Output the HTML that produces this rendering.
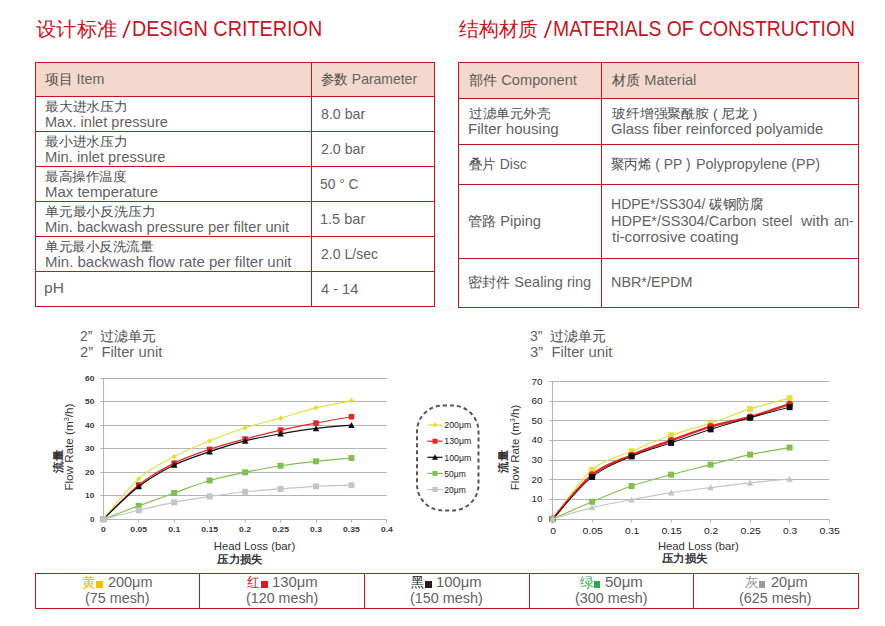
<!DOCTYPE html><html><head><meta charset="utf-8"><style>html,body{margin:0;padding:0;background:#fff;}
body{width:885px;height:626px;position:relative;overflow:hidden;font-family:"Liberation Sans",sans-serif;}
.a{position:absolute;white-space:nowrap;transform-origin:0 0;}
.z{font-size:13.7px;color:#4e4e4e}
</style></head><body>
<div style="position:absolute;left:35px;top:62px;width:400px;height:34px;background:#f3d8cb"></div>
<div style="position:absolute;left:35px;top:62px;width:400px;height:1px;background:#c8141e"></div>
<div style="position:absolute;left:35px;top:96px;width:400px;height:1px;background:#c8141e"></div>
<div style="position:absolute;left:35px;top:131px;width:400px;height:1px;background:#c8141e"></div>
<div style="position:absolute;left:35px;top:166px;width:400px;height:1px;background:#c8141e"></div>
<div style="position:absolute;left:35px;top:201px;width:400px;height:1px;background:#c8141e"></div>
<div style="position:absolute;left:35px;top:236px;width:400px;height:1px;background:#c8141e"></div>
<div style="position:absolute;left:35px;top:271px;width:400px;height:1px;background:#c8141e"></div>
<div style="position:absolute;left:35px;top:306px;width:400px;height:1px;background:#c8141e"></div>
<div style="position:absolute;left:35px;top:62px;width:1px;height:245px;background:#c8141e"></div>
<div style="position:absolute;left:311px;top:62px;width:1px;height:245px;background:#c8141e"></div>
<div style="position:absolute;left:434px;top:62px;width:1px;height:245px;background:#c8141e"></div>
<div style="position:absolute;left:458px;top:62px;width:401px;height:36px;background:#f3d8cb"></div>
<div style="position:absolute;left:458px;top:62px;width:401px;height:1px;background:#c8141e"></div>
<div style="position:absolute;left:458px;top:98px;width:401px;height:1px;background:#c8141e"></div>
<div style="position:absolute;left:458px;top:144px;width:401px;height:1px;background:#c8141e"></div>
<div style="position:absolute;left:458px;top:184px;width:401px;height:1px;background:#c8141e"></div>
<div style="position:absolute;left:458px;top:258px;width:401px;height:1px;background:#c8141e"></div>
<div style="position:absolute;left:458px;top:307px;width:401px;height:1px;background:#c8141e"></div>
<div style="position:absolute;left:458px;top:62px;width:1px;height:246px;background:#c8141e"></div>
<div style="position:absolute;left:601px;top:62px;width:1px;height:246px;background:#c8141e"></div>
<div style="position:absolute;left:858px;top:62px;width:1px;height:246px;background:#c8141e"></div>
<div style="position:absolute;left:35px;top:573px;width:824px;height:1px;background:#c8141e"></div>
<div style="position:absolute;left:35px;top:608px;width:824px;height:1px;background:#c8141e"></div>
<div style="position:absolute;left:35px;top:573px;width:1px;height:36px;background:#c8141e"></div>
<div style="position:absolute;left:199px;top:573px;width:1px;height:36px;background:#c8141e"></div>
<div style="position:absolute;left:364px;top:573px;width:1px;height:36px;background:#c8141e"></div>
<div style="position:absolute;left:529px;top:573px;width:1px;height:36px;background:#c8141e"></div>
<div style="position:absolute;left:693px;top:573px;width:1px;height:36px;background:#c8141e"></div>
<div style="position:absolute;left:858px;top:573px;width:1px;height:36px;background:#c8141e"></div>
<svg width="885" height="626" style="position:absolute;left:0;top:0" font-family="Liberation Sans, sans-serif">
<line x1="100.3" y1="495.50" x2="386.90" y2="495.50" stroke="#b4b4b4" stroke-width="1.1"/>
<line x1="100.3" y1="472.50" x2="386.90" y2="472.50" stroke="#b4b4b4" stroke-width="1.1"/>
<line x1="100.3" y1="448.50" x2="386.90" y2="448.50" stroke="#b4b4b4" stroke-width="1.1"/>
<line x1="100.3" y1="425.50" x2="386.90" y2="425.50" stroke="#b4b4b4" stroke-width="1.1"/>
<line x1="100.3" y1="401.50" x2="386.90" y2="401.50" stroke="#b4b4b4" stroke-width="1.1"/>
<line x1="100.3" y1="378.50" x2="386.90" y2="378.50" stroke="#b4b4b4" stroke-width="1.1"/>
<line x1="100.3" y1="519.50" x2="386.90" y2="519.50" stroke="#b4b4b4" stroke-width="1.1"/>
<line x1="103.50" y1="378.50" x2="103.50" y2="519.50" stroke="#b4b4b4" stroke-width="1.1"/>
<line x1="103.50" y1="519.50" x2="103.50" y2="522.50" stroke="#b4b4b4" stroke-width="1.1"/>
<line x1="138.50" y1="519.50" x2="138.50" y2="522.50" stroke="#b4b4b4" stroke-width="1.1"/>
<line x1="174.50" y1="519.50" x2="174.50" y2="522.50" stroke="#b4b4b4" stroke-width="1.1"/>
<line x1="209.50" y1="519.50" x2="209.50" y2="522.50" stroke="#b4b4b4" stroke-width="1.1"/>
<line x1="245.50" y1="519.50" x2="245.50" y2="522.50" stroke="#b4b4b4" stroke-width="1.1"/>
<line x1="280.50" y1="519.50" x2="280.50" y2="522.50" stroke="#b4b4b4" stroke-width="1.1"/>
<line x1="316.50" y1="519.50" x2="316.50" y2="522.50" stroke="#b4b4b4" stroke-width="1.1"/>
<line x1="351.50" y1="519.50" x2="351.50" y2="522.50" stroke="#b4b4b4" stroke-width="1.1"/>
<line x1="386.50" y1="519.50" x2="386.50" y2="522.50" stroke="#b4b4b4" stroke-width="1.1"/>
<path d="M103.30,519.20 C109.21,512.44 126.93,489.07 138.75,478.63 C150.57,468.20 162.38,462.88 174.20,456.59 C186.02,450.30 197.83,445.68 209.65,440.88 C221.47,436.07 233.28,431.54 245.10,427.75 C256.92,423.95 268.73,421.45 280.55,418.13 C292.37,414.81 304.18,410.70 316.00,407.81 C327.82,404.92 345.54,401.95 351.45,400.78" fill="none" stroke="#e6de3c" stroke-width="1.2"/>
<path d="M103.30,516.45 L106.05,519.20 L103.30,521.95 L100.55,519.20Z" fill="#e6de3c"/>
<path d="M138.75,475.88 L141.50,478.63 L138.75,481.38 L136.00,478.63Z" fill="#e6de3c"/>
<path d="M174.20,453.84 L176.95,456.59 L174.20,459.34 L171.45,456.59Z" fill="#e6de3c"/>
<path d="M209.65,438.13 L212.40,440.88 L209.65,443.63 L206.90,440.88Z" fill="#e6de3c"/>
<path d="M245.10,425.00 L247.85,427.75 L245.10,430.50 L242.35,427.75Z" fill="#e6de3c"/>
<path d="M280.55,415.38 L283.30,418.13 L280.55,420.88 L277.80,418.13Z" fill="#e6de3c"/>
<path d="M316.00,405.06 L318.75,407.81 L316.00,410.56 L313.25,407.81Z" fill="#e6de3c"/>
<path d="M351.45,398.03 L354.20,400.78 L351.45,403.53 L348.70,400.78Z" fill="#e6de3c"/>
<path d="M103.30,519.20 C109.21,513.49 126.93,494.30 138.75,484.96 C150.57,475.62 162.38,469.10 174.20,463.15 C186.02,457.21 197.83,453.34 209.65,449.32 C221.47,445.29 233.28,442.21 245.10,439.00 C256.92,435.80 268.73,432.75 280.55,430.09 C292.37,427.43 304.18,425.28 316.00,423.06 C327.82,420.83 345.54,417.78 351.45,416.72" fill="none" stroke="#e0282a" stroke-width="1.2"/>
<rect x="100.55" y="516.45" width="5.5" height="5.5" fill="#e0282a"/>
<rect x="136.00" y="482.21" width="5.5" height="5.5" fill="#e0282a"/>
<rect x="171.45" y="460.40" width="5.5" height="5.5" fill="#e0282a"/>
<rect x="206.90" y="446.57" width="5.5" height="5.5" fill="#e0282a"/>
<rect x="242.35" y="436.25" width="5.5" height="5.5" fill="#e0282a"/>
<rect x="277.80" y="427.34" width="5.5" height="5.5" fill="#e0282a"/>
<rect x="313.25" y="420.31" width="5.5" height="5.5" fill="#e0282a"/>
<rect x="348.70" y="413.97" width="5.5" height="5.5" fill="#e0282a"/>
<path d="M103.30,519.20 C109.21,513.77 126.93,495.63 138.75,486.60 C150.57,477.58 162.38,470.85 174.20,465.03 C186.02,459.21 197.83,455.69 209.65,451.66 C221.47,447.64 233.28,443.85 245.10,440.88 C256.92,437.91 268.73,435.91 280.55,433.84 C292.37,431.77 304.18,429.89 316.00,428.45 C327.82,427.00 345.54,425.71 351.45,425.17" fill="none" stroke="#101010" stroke-width="1.2"/>
<path d="M103.30,515.95 L106.55,521.95 L100.05,521.95Z" fill="#101010"/>
<path d="M138.75,483.35 L142.00,489.35 L135.50,489.35Z" fill="#101010"/>
<path d="M174.20,461.78 L177.45,467.78 L170.95,467.78Z" fill="#101010"/>
<path d="M209.65,448.41 L212.90,454.41 L206.40,454.41Z" fill="#101010"/>
<path d="M245.10,437.63 L248.35,443.63 L241.85,443.63Z" fill="#101010"/>
<path d="M280.55,430.59 L283.80,436.59 L277.30,436.59Z" fill="#101010"/>
<path d="M316.00,425.20 L319.25,431.20 L312.75,431.20Z" fill="#101010"/>
<path d="M351.45,421.92 L354.70,427.92 L348.20,427.92Z" fill="#101010"/>
<path d="M103.30,519.20 C109.21,516.97 126.93,510.21 138.75,505.83 C150.57,501.46 162.38,497.16 174.20,492.94 C186.02,488.72 197.83,483.95 209.65,480.51 C221.47,477.07 233.28,474.76 245.10,472.30 C256.92,469.84 268.73,467.57 280.55,465.73 C292.37,463.90 304.18,462.57 316.00,461.28 C327.82,459.99 345.54,458.54 351.45,458.00" fill="none" stroke="#80c050" stroke-width="1.2"/>
<rect x="100.30" y="516.20" width="6" height="6" fill="#80c050"/>
<rect x="135.75" y="502.83" width="6" height="6" fill="#80c050"/>
<rect x="171.20" y="489.94" width="6" height="6" fill="#80c050"/>
<rect x="206.65" y="477.51" width="6" height="6" fill="#80c050"/>
<rect x="242.10" y="469.30" width="6" height="6" fill="#80c050"/>
<rect x="277.55" y="462.73" width="6" height="6" fill="#80c050"/>
<rect x="313.00" y="458.28" width="6" height="6" fill="#80c050"/>
<rect x="348.45" y="455.00" width="6" height="6" fill="#80c050"/>
<path d="M103.30,519.20 C109.21,517.71 126.93,513.10 138.75,510.29 C150.57,507.48 162.38,504.62 174.20,502.32 C186.02,500.01 197.83,498.21 209.65,496.45 C221.47,494.69 233.28,493.01 245.10,491.76 C256.92,490.51 268.73,489.85 280.55,488.95 C292.37,488.05 304.18,487.00 316.00,486.37 C327.82,485.74 345.54,485.39 351.45,485.20" fill="none" stroke="#c4c4c4" stroke-width="1.2"/>
<rect x="100.30" y="516.20" width="6" height="6" fill="#c4c4c4"/>
<rect x="135.75" y="507.29" width="6" height="6" fill="#c4c4c4"/>
<rect x="171.20" y="499.32" width="6" height="6" fill="#c4c4c4"/>
<rect x="206.65" y="493.45" width="6" height="6" fill="#c4c4c4"/>
<rect x="242.10" y="488.76" width="6" height="6" fill="#c4c4c4"/>
<rect x="277.55" y="485.95" width="6" height="6" fill="#c4c4c4"/>
<rect x="313.00" y="483.37" width="6" height="6" fill="#c4c4c4"/>
<rect x="348.45" y="482.20" width="6" height="6" fill="#c4c4c4"/>
<line x1="549.3" y1="499.50" x2="829.10" y2="499.50" stroke="#b4b4b4" stroke-width="1.1"/>
<line x1="549.3" y1="479.50" x2="829.10" y2="479.50" stroke="#b4b4b4" stroke-width="1.1"/>
<line x1="549.3" y1="460.50" x2="829.10" y2="460.50" stroke="#b4b4b4" stroke-width="1.1"/>
<line x1="549.3" y1="440.50" x2="829.10" y2="440.50" stroke="#b4b4b4" stroke-width="1.1"/>
<line x1="549.3" y1="420.50" x2="829.10" y2="420.50" stroke="#b4b4b4" stroke-width="1.1"/>
<line x1="549.3" y1="401.50" x2="829.10" y2="401.50" stroke="#b4b4b4" stroke-width="1.1"/>
<line x1="549.3" y1="381.50" x2="829.10" y2="381.50" stroke="#b4b4b4" stroke-width="1.1"/>
<line x1="549.3" y1="519.50" x2="829.10" y2="519.50" stroke="#b4b4b4" stroke-width="1.1"/>
<line x1="552.50" y1="381.50" x2="552.50" y2="519.50" stroke="#b4b4b4" stroke-width="1.1"/>
<line x1="552.50" y1="519.50" x2="552.50" y2="522.50" stroke="#b4b4b4" stroke-width="1.1"/>
<line x1="592.50" y1="519.50" x2="592.50" y2="522.50" stroke="#b4b4b4" stroke-width="1.1"/>
<line x1="631.50" y1="519.50" x2="631.50" y2="522.50" stroke="#b4b4b4" stroke-width="1.1"/>
<line x1="671.50" y1="519.50" x2="671.50" y2="522.50" stroke="#b4b4b4" stroke-width="1.1"/>
<line x1="710.50" y1="519.50" x2="710.50" y2="522.50" stroke="#b4b4b4" stroke-width="1.1"/>
<line x1="750.50" y1="519.50" x2="750.50" y2="522.50" stroke="#b4b4b4" stroke-width="1.1"/>
<line x1="789.50" y1="519.50" x2="789.50" y2="522.50" stroke="#b4b4b4" stroke-width="1.1"/>
<line x1="829.50" y1="519.50" x2="829.50" y2="522.50" stroke="#b4b4b4" stroke-width="1.1"/>
<path d="M552.60,519.00 C559.18,510.79 578.93,481.04 592.10,469.75 C605.27,458.47 618.43,457.07 631.60,451.31 C644.77,445.56 657.93,439.90 671.10,435.22 C684.27,430.55 697.43,427.64 710.60,423.25 C723.77,418.87 736.93,413.12 750.10,408.93 C763.27,404.75 783.02,399.94 789.60,398.14" fill="none" stroke="#e6de3c" stroke-width="1.2"/>
<rect x="549.60" y="516.00" width="6" height="6" fill="#e6de3c"/>
<rect x="589.10" y="466.75" width="6" height="6" fill="#e6de3c"/>
<rect x="628.60" y="448.31" width="6" height="6" fill="#e6de3c"/>
<rect x="668.10" y="432.22" width="6" height="6" fill="#e6de3c"/>
<rect x="707.60" y="420.25" width="6" height="6" fill="#e6de3c"/>
<rect x="747.10" y="405.93" width="6" height="6" fill="#e6de3c"/>
<rect x="786.60" y="395.14" width="6" height="6" fill="#e6de3c"/>
<path d="M552.60,519.00 C559.18,511.64 578.93,485.48 592.10,474.86 C605.27,464.23 618.43,460.96 631.60,455.24 C644.77,449.51 657.93,445.29 671.10,440.52 C684.27,435.75 697.43,430.51 710.60,426.59 C723.77,422.67 736.93,420.70 750.10,416.98 C763.27,413.25 783.02,406.35 789.60,404.22" fill="none" stroke="#e0282a" stroke-width="2.4"/>
<circle cx="552.60" cy="519.00" r="3.5" fill="#e0282a"/>
<circle cx="592.10" cy="474.86" r="3.5" fill="#e0282a"/>
<circle cx="631.60" cy="455.24" r="3.5" fill="#e0282a"/>
<circle cx="671.10" cy="440.52" r="3.5" fill="#e0282a"/>
<circle cx="710.60" cy="426.59" r="3.5" fill="#e0282a"/>
<circle cx="750.10" cy="416.98" r="3.5" fill="#e0282a"/>
<circle cx="789.60" cy="404.22" r="3.5" fill="#e0282a"/>
<path d="M552.60,519.00 C559.18,512.00 578.93,487.44 592.10,477.01 C605.27,466.58 618.43,462.10 631.60,456.41 C644.77,450.72 657.93,447.39 671.10,442.87 C684.27,438.36 697.43,433.52 710.60,429.34 C723.77,425.15 736.93,421.46 750.10,417.76 C763.27,414.07 783.02,408.93 789.60,407.17" fill="none" stroke="#101010" stroke-width="1.0"/>
<rect x="549.60" y="516.00" width="6" height="6" fill="#101010"/>
<rect x="589.10" y="474.01" width="6" height="6" fill="#101010"/>
<rect x="628.60" y="453.41" width="6" height="6" fill="#101010"/>
<rect x="668.10" y="439.87" width="6" height="6" fill="#101010"/>
<rect x="707.60" y="426.34" width="6" height="6" fill="#101010"/>
<rect x="747.10" y="414.76" width="6" height="6" fill="#101010"/>
<rect x="786.60" y="404.17" width="6" height="6" fill="#101010"/>
<path d="M552.60,519.00 C559.18,516.12 578.93,507.23 592.10,501.73 C605.27,496.24 618.43,490.55 631.60,486.04 C644.77,481.53 657.93,478.22 671.10,474.66 C684.27,471.09 697.43,467.99 710.60,464.65 C723.77,461.32 736.93,457.49 750.10,454.65 C763.27,451.80 783.02,448.76 789.60,447.58" fill="none" stroke="#80c050" stroke-width="1.2"/>
<rect x="549.60" y="516.00" width="6" height="6" fill="#80c050"/>
<rect x="589.10" y="498.73" width="6" height="6" fill="#80c050"/>
<rect x="628.60" y="483.04" width="6" height="6" fill="#80c050"/>
<rect x="668.10" y="471.66" width="6" height="6" fill="#80c050"/>
<rect x="707.60" y="461.65" width="6" height="6" fill="#80c050"/>
<rect x="747.10" y="451.65" width="6" height="6" fill="#80c050"/>
<rect x="786.60" y="444.58" width="6" height="6" fill="#80c050"/>
<path d="M552.60,519.00 C559.18,517.10 578.93,510.83 592.10,507.62 C605.27,504.42 618.43,502.26 631.60,499.77 C644.77,497.29 657.93,494.74 671.10,492.71 C684.27,490.68 697.43,489.24 710.60,487.61 C723.77,485.97 736.93,484.34 750.10,482.90 C763.27,481.46 783.02,479.63 789.60,478.98" fill="none" stroke="#c4c4c4" stroke-width="1.2"/>
<path d="M552.60,515.75 L555.85,521.75 L549.35,521.75Z" fill="#c4c4c4"/>
<path d="M592.10,504.37 L595.35,510.37 L588.85,510.37Z" fill="#c4c4c4"/>
<path d="M631.60,496.52 L634.85,502.52 L628.35,502.52Z" fill="#c4c4c4"/>
<path d="M671.10,489.46 L674.35,495.46 L667.85,495.46Z" fill="#c4c4c4"/>
<path d="M710.60,484.36 L713.85,490.36 L707.35,490.36Z" fill="#c4c4c4"/>
<path d="M750.10,479.65 L753.35,485.65 L746.85,485.65Z" fill="#c4c4c4"/>
<path d="M789.60,475.73 L792.85,481.73 L786.35,481.73Z" fill="#c4c4c4"/>
<rect x="417" y="405.5" width="61.5" height="105" rx="26" ry="26" fill="none" stroke="#555" stroke-width="2" stroke-dasharray="4 3"/>
<line x1="427.3" y1="425.10" x2="442.6" y2="425.10" stroke="#e6de3c" stroke-width="1.2"/>
<path d="M435.00,422.60 L437.50,425.10 L435.00,427.60 L432.50,425.10Z" fill="#e6de3c"/>
<line x1="427.3" y1="441.20" x2="442.6" y2="441.20" stroke="#e0282a" stroke-width="1.2"/>
<rect x="432.50" y="438.70" width="5" height="5" fill="#e0282a"/>
<line x1="427.3" y1="457.30" x2="442.6" y2="457.30" stroke="#101010" stroke-width="1.2"/>
<path d="M435.00,454.30 L438.00,459.80 L432.00,459.80Z" fill="#101010"/>
<line x1="427.3" y1="473.40" x2="442.6" y2="473.40" stroke="#80c050" stroke-width="1.2"/>
<rect x="432.50" y="470.90" width="5" height="5" fill="#80c050"/>
<line x1="427.3" y1="489.50" x2="442.6" y2="489.50" stroke="#c4c4c4" stroke-width="1.2"/>
<rect x="432.50" y="487.00" width="5" height="5" fill="#c4c4c4"/>
<text x="94.40" y="521.65" font-size="6.8" text-anchor="end" fill="#3a3a3a" font-weight="bold" textLength="4.45" lengthAdjust="spacingAndGlyphs" >0</text>
<text x="94.40" y="498.20" font-size="6.8" text-anchor="end" fill="#3a3a3a" font-weight="bold" textLength="9.4" lengthAdjust="spacingAndGlyphs" >10</text>
<text x="94.40" y="474.75" font-size="6.8" text-anchor="end" fill="#3a3a3a" font-weight="bold" textLength="9.4" lengthAdjust="spacingAndGlyphs" >20</text>
<text x="94.40" y="451.30" font-size="6.8" text-anchor="end" fill="#3a3a3a" font-weight="bold" textLength="9.4" lengthAdjust="spacingAndGlyphs" >30</text>
<text x="94.40" y="427.85" font-size="6.8" text-anchor="end" fill="#3a3a3a" font-weight="bold" textLength="9.4" lengthAdjust="spacingAndGlyphs" >40</text>
<text x="94.40" y="404.40" font-size="6.8" text-anchor="end" fill="#3a3a3a" font-weight="bold" textLength="9.4" lengthAdjust="spacingAndGlyphs" >50</text>
<text x="94.40" y="380.95" font-size="6.8" text-anchor="end" fill="#3a3a3a" font-weight="bold" textLength="9.4" lengthAdjust="spacingAndGlyphs" >60</text>
<text x="103.30" y="531.90" font-size="6.8" text-anchor="middle" fill="#3a3a3a" font-weight="bold" textLength="4.8" lengthAdjust="spacingAndGlyphs" >0</text>
<text x="138.75" y="531.90" font-size="6.8" text-anchor="middle" fill="#3a3a3a" font-weight="bold" textLength="16.8" lengthAdjust="spacingAndGlyphs" >0.05</text>
<text x="174.20" y="531.90" font-size="6.8" text-anchor="middle" fill="#3a3a3a" font-weight="bold" textLength="12.0" lengthAdjust="spacingAndGlyphs" >0.1</text>
<text x="209.65" y="531.90" font-size="6.8" text-anchor="middle" fill="#3a3a3a" font-weight="bold" textLength="16.8" lengthAdjust="spacingAndGlyphs" >0.15</text>
<text x="245.10" y="531.90" font-size="6.8" text-anchor="middle" fill="#3a3a3a" font-weight="bold" textLength="12.0" lengthAdjust="spacingAndGlyphs" >0.2</text>
<text x="280.55" y="531.90" font-size="6.8" text-anchor="middle" fill="#3a3a3a" font-weight="bold" textLength="16.8" lengthAdjust="spacingAndGlyphs" >0.25</text>
<text x="316.00" y="531.90" font-size="6.8" text-anchor="middle" fill="#3a3a3a" font-weight="bold" textLength="12.0" lengthAdjust="spacingAndGlyphs" >0.3</text>
<text x="351.45" y="531.90" font-size="6.8" text-anchor="middle" fill="#3a3a3a" font-weight="bold" textLength="16.8" lengthAdjust="spacingAndGlyphs" >0.35</text>
<text x="386.90" y="531.90" font-size="6.8" text-anchor="middle" fill="#3a3a3a" font-weight="bold" textLength="12.0" lengthAdjust="spacingAndGlyphs" >0.4</text>
<text x="542.60" y="521.90" font-size="8.4" text-anchor="end" fill="#222" font-weight="normal" textLength="5.3" lengthAdjust="spacingAndGlyphs" >0</text>
<text x="542.60" y="502.28" font-size="8.4" text-anchor="end" fill="#222" font-weight="normal" textLength="11.0" lengthAdjust="spacingAndGlyphs" >10</text>
<text x="542.60" y="482.66" font-size="8.4" text-anchor="end" fill="#222" font-weight="normal" textLength="11.0" lengthAdjust="spacingAndGlyphs" >20</text>
<text x="542.60" y="463.04" font-size="8.4" text-anchor="end" fill="#222" font-weight="normal" textLength="11.0" lengthAdjust="spacingAndGlyphs" >30</text>
<text x="542.60" y="443.42" font-size="8.4" text-anchor="end" fill="#222" font-weight="normal" textLength="11.0" lengthAdjust="spacingAndGlyphs" >40</text>
<text x="542.60" y="423.80" font-size="8.4" text-anchor="end" fill="#222" font-weight="normal" textLength="11.0" lengthAdjust="spacingAndGlyphs" >50</text>
<text x="542.60" y="404.18" font-size="8.4" text-anchor="end" fill="#222" font-weight="normal" textLength="11.0" lengthAdjust="spacingAndGlyphs" >60</text>
<text x="542.60" y="384.56" font-size="8.4" text-anchor="end" fill="#222" font-weight="normal" textLength="11.0" lengthAdjust="spacingAndGlyphs" >70</text>
<text x="553.10" y="534.10" font-size="8.2" text-anchor="middle" fill="#222" font-weight="normal" textLength="5.8" lengthAdjust="spacingAndGlyphs" >0</text>
<text x="592.60" y="534.10" font-size="8.2" text-anchor="middle" fill="#222" font-weight="normal" textLength="20.4" lengthAdjust="spacingAndGlyphs" >0.05</text>
<text x="632.10" y="534.10" font-size="8.2" text-anchor="middle" fill="#222" font-weight="normal" textLength="14.2" lengthAdjust="spacingAndGlyphs" >0.1</text>
<text x="671.60" y="534.10" font-size="8.2" text-anchor="middle" fill="#222" font-weight="normal" textLength="20.4" lengthAdjust="spacingAndGlyphs" >0.15</text>
<text x="711.10" y="534.10" font-size="8.2" text-anchor="middle" fill="#222" font-weight="normal" textLength="14.2" lengthAdjust="spacingAndGlyphs" >0.2</text>
<text x="750.60" y="534.10" font-size="8.2" text-anchor="middle" fill="#222" font-weight="normal" textLength="20.4" lengthAdjust="spacingAndGlyphs" >0.25</text>
<text x="790.10" y="534.10" font-size="8.2" text-anchor="middle" fill="#222" font-weight="normal" textLength="14.2" lengthAdjust="spacingAndGlyphs" >0.3</text>
<text x="829.60" y="534.10" font-size="8.2" text-anchor="middle" fill="#222" font-weight="normal" textLength="20.4" lengthAdjust="spacingAndGlyphs" >0.35</text>
<text x="213.70" y="550.30" font-size="11" text-anchor="start" fill="#333" font-weight="normal" textLength="81.5" lengthAdjust="spacingAndGlyphs" >Head Loss (bar)</text>
<text x="217.40" y="562.60" font-size="11.4" text-anchor="start" fill="#333" font-weight="bold" textLength="45.4" lengthAdjust="spacingAndGlyphs" >压力损失</text>
<text x="657.90" y="550.30" font-size="11" text-anchor="start" fill="#333" font-weight="normal" textLength="81" lengthAdjust="spacingAndGlyphs" >Head Loss (bar)</text>
<text x="661.90" y="562.40" font-size="11.4" text-anchor="start" fill="#333" font-weight="bold" textLength="45.7" lengthAdjust="spacingAndGlyphs" >压力损失</text>
<g transform="translate(72.7,490.6) rotate(-90)">
<text x="0.00" y="0.00" font-size="11" text-anchor="start" fill="#333" font-weight="normal" textLength="87" lengthAdjust="spacingAndGlyphs" >Flow Rate (m<tspan font-size="7" dy="-4">3</tspan><tspan dy="4">/h)</tspan></text>
</g>
<g transform="translate(62.2,472.5) rotate(-90)">
<text x="0.00" y="0.00" font-size="11.4" text-anchor="start" fill="#333" font-weight="bold" textLength="23.2" lengthAdjust="spacingAndGlyphs" >流量</text>
</g>
<g transform="translate(518.9,490.2) rotate(-90)">
<text x="0.00" y="0.00" font-size="11" text-anchor="start" fill="#333" font-weight="normal" textLength="85.5" lengthAdjust="spacingAndGlyphs" >Flow Rate (m<tspan font-size="7" dy="-4">3</tspan><tspan dy="4">/h)</tspan></text>
</g>
<g transform="translate(507.4,472.5) rotate(-90)">
<text x="0.00" y="0.00" font-size="11.4" text-anchor="start" fill="#333" font-weight="bold" textLength="22.4" lengthAdjust="spacingAndGlyphs" >流量</text>
</g>
<text x="444.30" y="428.30" font-size="9" text-anchor="start" fill="#222" font-weight="normal" textLength="27" lengthAdjust="spacingAndGlyphs" >200μm</text>
<text x="444.30" y="444.40" font-size="9" text-anchor="start" fill="#222" font-weight="normal" textLength="27" lengthAdjust="spacingAndGlyphs" >130μm</text>
<text x="444.30" y="460.50" font-size="9" text-anchor="start" fill="#222" font-weight="normal" textLength="27" lengthAdjust="spacingAndGlyphs" >100μm</text>
<text x="444.30" y="476.60" font-size="9" text-anchor="start" fill="#222" font-weight="normal" textLength="21.5" lengthAdjust="spacingAndGlyphs" >50μm</text>
<text x="444.30" y="492.70" font-size="9" text-anchor="start" fill="#222" font-weight="normal" textLength="21.5" lengthAdjust="spacingAndGlyphs" >20μm</text>
<line x1="123.1" y1="37.9" x2="129.9" y2="20.5" stroke="#c8141e" stroke-width="1.7"/>
<line x1="544.7" y1="37.9" x2="551.1" y2="20.5" stroke="#c8141e" stroke-width="1.7"/>
</svg>
<div style="position:absolute;left:96.1px;top:581px;width:6.7px;height:6.7px;background:#f5c000"></div>
<div style="position:absolute;left:260.9px;top:581px;width:6.7px;height:6.7px;background:#e8141e"></div>
<div style="position:absolute;left:425.3px;top:581px;width:6.7px;height:6.7px;background:#2a1a1a"></div>
<div style="position:absolute;left:593.6px;top:581px;width:6.7px;height:6.7px;background:#2ea84a"></div>
<div style="position:absolute;left:758.6px;top:581px;width:6.7px;height:6.7px;background:#9a9a9a"></div>
<div class="a" style="left:36.40px;top:19.30px;font-size:20px;line-height:20px;color:#c8141e;font-weight:normal;;transform:scaleX(1.0127)">设计标准</div>
<div class="a" style="left:132.10px;top:17.80px;font-size:22px;line-height:22px;color:#c8141e;font-weight:normal;;transform:scaleX(0.8995)">DESIGN CRITERION</div>
<div class="a" style="left:458.80px;top:19.30px;font-size:20px;line-height:20px;color:#c8141e;font-weight:normal;;transform:scaleX(0.9913)">结构材质</div>
<div class="a" style="left:552.92px;top:17.80px;font-size:22px;line-height:22px;color:#c8141e;font-weight:normal;;transform:scaleX(0.8804)">MATERIALS OF CONSTRUCTION</div>
<div class="a" style="left:45.10px;top:72.10px;font-size:14.5px;line-height:14.5px;color:#636363;font-weight:normal;;transform:scaleX(0.9850)"><span class="z">项目</span> Item</div>
<div class="a" style="left:321.10px;top:72.10px;font-size:14.5px;line-height:14.5px;color:#636363;font-weight:normal;;transform:scaleX(0.9630)"><span class="z">参数</span> Parameter</div>
<div class="a" style="left:45.10px;top:101.00px;font-size:12.9px;line-height:12.9px;color:#4e4e4e;font-weight:normal;;transform:scaleX(1.0632)">最大进水压力</div>
<div class="a" style="left:45.10px;top:114.80px;font-size:14.5px;line-height:14.5px;color:#636363;font-weight:normal;;transform:scaleX(1.0033)">Max. inlet pressure</div>
<div class="a" style="left:321.10px;top:106.80px;font-size:14.5px;line-height:14.5px;color:#636363;font-weight:normal;;transform:scaleX(0.9800)">8.0 bar</div>
<div class="a" style="left:45.10px;top:136.00px;font-size:12.9px;line-height:12.9px;color:#4e4e4e;font-weight:normal;;transform:scaleX(1.0632)">最小进水压力</div>
<div class="a" style="left:45.08px;top:149.80px;font-size:14.5px;line-height:14.5px;color:#636363;font-weight:normal;;transform:scaleX(1.0171)">Min. inlet pressure</div>
<div class="a" style="left:321.10px;top:141.80px;font-size:14.5px;line-height:14.5px;color:#636363;font-weight:normal;;transform:scaleX(0.9800)">2.0 bar</div>
<div class="a" style="left:45.10px;top:171.00px;font-size:12.9px;line-height:12.9px;color:#4e4e4e;font-weight:normal;;transform:scaleX(1.0449)">最高操作温度</div>
<div class="a" style="left:45.07px;top:184.80px;font-size:14.5px;line-height:14.5px;color:#636363;font-weight:normal;;transform:scaleX(1.0315)">Max temperature</div>
<div class="a" style="left:320.15px;top:176.80px;font-size:14.5px;line-height:14.5px;color:#636363;font-weight:normal;;transform:scaleX(0.9538)">50 ° C</div>
<div class="a" style="left:45.10px;top:206.00px;font-size:12.9px;line-height:12.9px;color:#4e4e4e;font-weight:normal;;transform:scaleX(1.0608)">单元最小反洗压力</div>
<div class="a" style="left:45.08px;top:219.80px;font-size:14.5px;line-height:14.5px;color:#636363;font-weight:normal;;transform:scaleX(1.0167)">Min. backwash pressure per filter unit</div>
<div class="a" style="left:320.10px;top:211.80px;font-size:14.5px;line-height:14.5px;color:#636363;font-weight:normal;;transform:scaleX(1.0023)">1.5 bar</div>
<div class="a" style="left:45.10px;top:241.00px;font-size:12.9px;line-height:12.9px;color:#4e4e4e;font-weight:normal;;transform:scaleX(1.0385)">单元最小反洗流量</div>
<div class="a" style="left:45.07px;top:254.80px;font-size:14.5px;line-height:14.5px;color:#636363;font-weight:normal;;transform:scaleX(1.0332)">Min. backwash flow rate per filter unit</div>
<div class="a" style="left:321.10px;top:246.80px;font-size:14.5px;line-height:14.5px;color:#636363;font-weight:normal;;transform:scaleX(0.9707)">2.0 L/sec</div>
<div class="a" style="left:44.23px;top:281.30px;font-size:14.5px;line-height:14.5px;color:#636363;font-weight:normal;;transform:scaleX(1.0706)">pH</div>
<div class="a" style="left:321.10px;top:282.00px;font-size:14.5px;line-height:14.5px;color:#636363;font-weight:normal;;transform:scaleX(1.0054)">4 - 14</div>
<div class="a" style="left:468.60px;top:72.60px;font-size:14.5px;line-height:14.5px;color:#636363;font-weight:normal;;transform:scaleX(1.0084)"><span class="z">部件</span> Component</div>
<div class="a" style="left:468.60px;top:107.50px;font-size:12.9px;line-height:12.9px;color:#4e4e4e;font-weight:normal;;transform:scaleX(1.0449)">过滤单元外壳</div>
<div class="a" style="left:467.56px;top:122.00px;font-size:14.5px;line-height:14.5px;color:#636363;font-weight:normal;;transform:scaleX(1.0424)">Filter housing</div>
<div class="a" style="left:468.60px;top:156.90px;font-size:14.5px;line-height:14.5px;color:#636363;font-weight:normal;;transform:scaleX(0.9600)"><span class="z">叠片</span> Disc</div>
<div class="a" style="left:467.69px;top:213.90px;font-size:14.5px;line-height:14.5px;color:#636363;font-weight:normal;;transform:scaleX(1.0085)"><span class="z">管路</span> Piping</div>
<div class="a" style="left:467.70px;top:274.80px;font-size:14.5px;line-height:14.5px;color:#636363;font-weight:normal;;transform:scaleX(1.0050)"><span class="z">密封件</span> Sealing ring</div>
<div class="a" style="left:611.70px;top:72.60px;font-size:14.5px;line-height:14.5px;color:#636363;font-weight:normal;;transform:scaleX(1.0084)"><span class="z">材质</span> Material</div>
<div class="a" style="left:611.70px;top:107.50px;font-size:12.9px;line-height:12.9px;color:#4e4e4e;font-weight:normal;;transform:scaleX(1.0669)">玻纤增强聚酰胺 ( 尼龙 )</div>
<div class="a" style="left:610.68px;top:122.00px;font-size:14.5px;line-height:14.5px;color:#636363;font-weight:normal;;transform:scaleX(1.0203)">Glass fiber reinforced polyamide</div>
<div class="a" style="left:611.20px;top:156.90px;font-size:14.5px;line-height:14.5px;color:#636363;font-weight:normal;;transform:scaleX(0.9610)"><span class="z">聚丙烯</span> ( PP )</div>
<div class="a" style="left:696.01px;top:156.90px;font-size:14.5px;line-height:14.5px;color:#636363;font-weight:normal;;transform:scaleX(0.9935)">Polypropylene (PP)</div>
<div class="a" style="left:610.73px;top:197.00px;font-size:14.5px;line-height:14.5px;color:#636363;font-weight:normal;;transform:scaleX(0.9675)">HDPE*/SS304/ <span class="z">碳钢防腐</span></div>
<div class="a" style="left:610.70px;top:213.70px;font-size:14.5px;line-height:14.5px;color:#636363;font-weight:normal;;transform:scaleX(1.0021)">HDPE*/SS304/Carbon</div>
<div class="a" style="left:762.40px;top:213.70px;font-size:14.5px;line-height:14.5px;color:#636363;font-weight:normal;;transform:scaleX(0.9933)">steel</div>
<div class="a" style="left:800.60px;top:213.70px;font-size:14.5px;line-height:14.5px;color:#636363;font-weight:normal;;transform:scaleX(1.0760)">with</div>
<div class="a" style="left:834.00px;top:213.70px;font-size:14.5px;line-height:14.5px;color:#636363;font-weight:normal;;transform:scaleX(0.9286)">an-</div>
<div class="a" style="left:611.70px;top:229.90px;font-size:14.5px;line-height:14.5px;color:#636363;font-weight:normal;;transform:scaleX(1.0413)">ti-corrosive coating</div>
<div class="a" style="left:610.71px;top:275.40px;font-size:14.5px;line-height:14.5px;color:#636363;font-weight:normal;;transform:scaleX(0.9912)">NBR*/EPDM</div>
<div class="a" style="left:79.50px;top:328.90px;font-size:14px;line-height:14px;color:#636363;font-weight:normal;;transform:scaleX(0.9961)">2”&nbsp;&nbsp;<span class="z">过滤单元</span></div>
<div class="a" style="left:79.50px;top:345.10px;font-size:14px;line-height:14px;color:#636363;font-weight:normal;;transform:scaleX(1.0577)">2”&nbsp;&nbsp;Filter unit</div>
<div class="a" style="left:529.50px;top:328.90px;font-size:14px;line-height:14px;color:#636363;font-weight:normal;;transform:scaleX(0.9961)">3”&nbsp;&nbsp;<span class="z">过滤单元</span></div>
<div class="a" style="left:529.50px;top:345.10px;font-size:14px;line-height:14px;color:#636363;font-weight:normal;;transform:scaleX(1.0577)">3”&nbsp;&nbsp;Filter unit</div>
<div class="a" style="left:82.20px;top:576.30px;font-size:13.5px;line-height:13.5px;color:#f5b800;font-weight:normal;;transform:scaleX(0.9923)">黄</div>
<div class="a" style="left:107.90px;top:575.10px;font-size:14.5px;line-height:14.5px;color:#636363;font-weight:normal;;transform:scaleX(1.0000)">200μm</div>
<div class="a" style="left:84.81px;top:591.00px;font-size:14.5px;line-height:14.5px;color:#636363;font-weight:normal;;transform:scaleX(0.9891)">(75 mesh)</div>
<div class="a" style="left:247.00px;top:576.30px;font-size:13.5px;line-height:13.5px;color:#e8141e;font-weight:normal;;transform:scaleX(0.9214)">红</div>
<div class="a" style="left:271.98px;top:575.10px;font-size:14.5px;line-height:14.5px;color:#636363;font-weight:normal;;transform:scaleX(1.0233)">130μm</div>
<div class="a" style="left:245.72px;top:591.00px;font-size:14.5px;line-height:14.5px;color:#636363;font-weight:normal;;transform:scaleX(0.9847)">(120 mesh)</div>
<div class="a" style="left:411.40px;top:576.30px;font-size:13.5px;line-height:13.5px;color:#222;font-weight:normal;;transform:scaleX(0.9214)">黑</div>
<div class="a" style="left:436.08px;top:575.10px;font-size:14.5px;line-height:14.5px;color:#636363;font-weight:normal;;transform:scaleX(1.0233)">100μm</div>
<div class="a" style="left:409.81px;top:591.00px;font-size:14.5px;line-height:14.5px;color:#636363;font-weight:normal;;transform:scaleX(0.9917)">(150 mesh)</div>
<div class="a" style="left:579.70px;top:576.30px;font-size:13.5px;line-height:13.5px;color:#2ea84a;font-weight:normal;;transform:scaleX(0.9923)">绿</div>
<div class="a" style="left:604.97px;top:575.10px;font-size:14.5px;line-height:14.5px;color:#636363;font-weight:normal;;transform:scaleX(1.0343)">50μm</div>
<div class="a" style="left:574.71px;top:591.00px;font-size:14.5px;line-height:14.5px;color:#636363;font-weight:normal;;transform:scaleX(0.9889)">(300 mesh)</div>
<div class="a" style="left:744.70px;top:576.30px;font-size:13.5px;line-height:13.5px;color:#9a9a9a;font-weight:normal;;transform:scaleX(0.9923)">灰</div>
<div class="a" style="left:770.60px;top:575.10px;font-size:14.5px;line-height:14.5px;color:#636363;font-weight:normal;;transform:scaleX(1.0056)">20μm</div>
<div class="a" style="left:739.41px;top:591.00px;font-size:14.5px;line-height:14.5px;color:#636363;font-weight:normal;;transform:scaleX(0.9889)">(625 mesh)</div>
</body></html>
